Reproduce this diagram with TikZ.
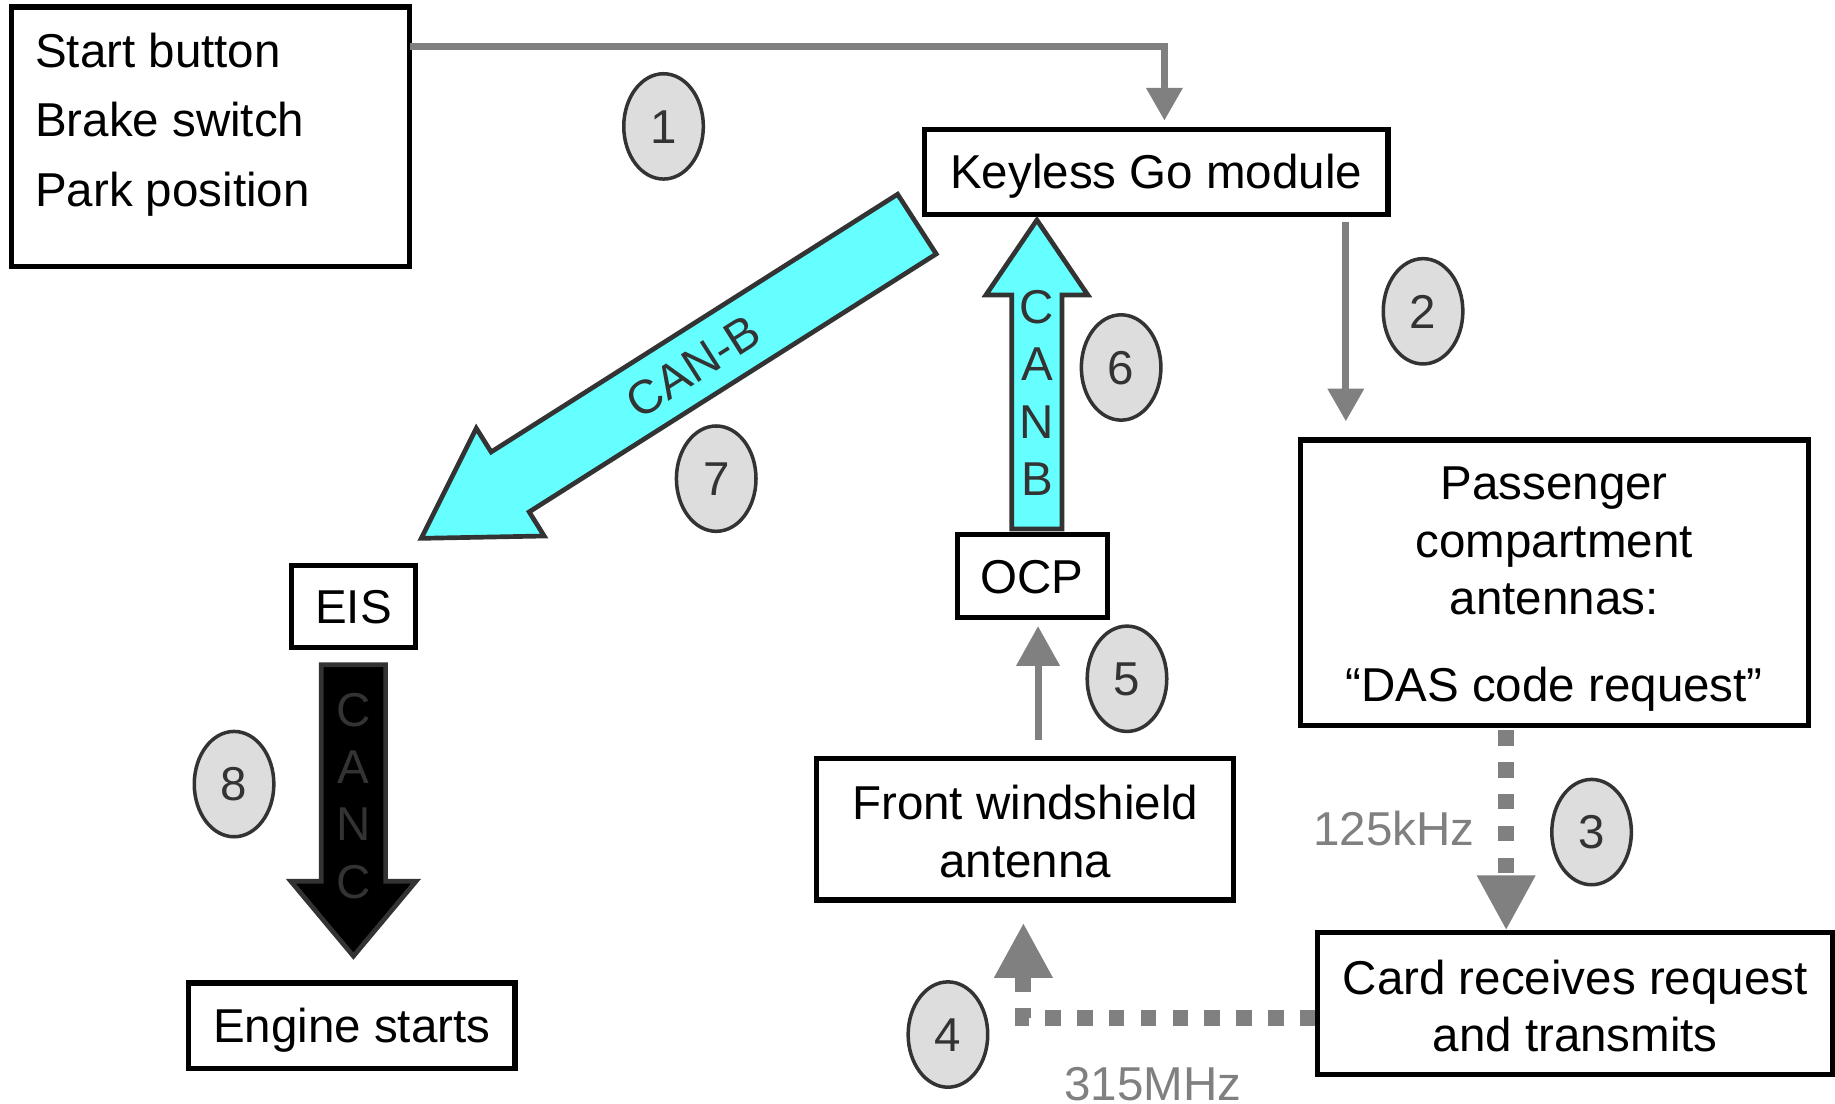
\documentclass[tikz,border=0pt]{standalone}
\usepackage{fontspec}
\setmainfont{Liberation Sans}
\usetikzlibrary{arrows.meta,shapes.geometric}
\definecolor{garr}{HTML}{808080}
\definecolor{dk}{HTML}{333333}
\definecolor{cfill}{HTML}{66FFFF}
\definecolor{cirf}{HTML}{DDDDDD}
\begin{document}
\begin{tikzpicture}[x=0.5pt,y=-0.5pt,
 every node/.style={font=\fontsize{20.3}{24}\selectfont, inner sep=0pt, outer sep=0pt},
 box/.style={draw=black, line width=2.2pt, text height=15.2pt, text depth=0.8pt},
 txt/.style={anchor=base},
 num/.style={ellipse, draw=dk, fill=cirf, line width=1.5pt, minimum width=34pt, minimum height=45pt, text=dk, text height=15.2pt, text depth=0.8pt},
 garrow/.style={draw=garr, line width=3pt, -{Triangle[width=15pt,length=14pt]}},
 dotarrow/.style={draw=garr, line width=6.8pt, dash pattern=on 6.6pt off 7pt, -{Triangle[width=23.5pt,length=23.5pt]}},
 blockarr/.style={draw=dk, line width=2pt},
 lett/.style={text=dk, text height=15.2pt, text depth=0.8pt}
]
\useasboundingbox (0,0) rectangle (1568,942.6);
% boxes
\node[box, minimum width=170pt, minimum height=111pt] (box1) at (180,117) {};
\node[txt, anchor=base west] (t1a) at (30,57.5) {Start button};
\node[txt, anchor=base west] (t1b) at (30,116.5) {Brake switch};
\node[txt, anchor=base west] (t1c) at (30,176.5) {Park position};
\node[box, minimum width=198pt, minimum height=36pt] (kgm) at (988,147) {Keyless Go module};
\node[box, minimum width=217pt, minimum height=122pt] (pca) at (1328,498) {};
\node[txt] (tpa) at (1328,426.5) {Passenger};
\node[txt] (tpb) at (1328,476.5) {compartment};
\node[txt] (tpc) at (1328,525.5) {antennas:};
\node[txt] (tpd) at (1328,599.5) {“DAS code request”};
\node[box, minimum width=220pt, minimum height=60.5pt] (card) at (1346,857.5) {};
\node[txt] (tca) at (1346,849.5) {Card receives request};
\node[txt] (tcb) at (1346,898.5) {and transmits};
\node[box, minimum width=178pt, minimum height=60.5pt] (fwa) at (876,708.5) {};
\node[txt] (tfa) at (876,700.5) {Front windshield};
\node[txt] (tfb) at (876,749.5) {antenna};
\node[box, minimum width=64pt, minimum height=35.5pt] (ocp) at (882,492.5) {OCP};
\node[box, minimum width=53pt, minimum height=35pt] (eis) at (302,518) {EIS};
\node[box, minimum width=139.5pt, minimum height=36.5pt] (eng) at (300.5,876.5) {Engine starts};
% helper coordinates
\coordinate (r1) at (995,40);
\coordinate (r2) at (1150,0);
\coordinate (r3) at (1287,0);
\coordinate (r4) at (874.5,870);
\coordinate (r5) at (887,0);
% gray arrows
\draw[garrow, shorten >=4pt] (box1.east |- r1) -| (kgm.north -| r1);
\draw[garrow, shorten <=3.5pt, shorten >=8pt] (kgm.south -| r2) -- (pca.north -| r2);
\draw[dotarrow, shorten <=2pt, shorten >=1pt] (pca.south -| r3) -- (card.north -| r3);
\draw[dotarrow, shorten <=1pt, shorten >=9.75pt] (card.west |- r4) -| (fwa.south -| r4);
\draw[garrow, -{Triangle[width=18pt,length=17pt]}, shorten <=8pt, shorten >=3.5pt] (fwa.north -| r5) -- (ocp.south -| r5);
% labels
\node[txt, anchor=base east, text=garr] (l125) at (1260,722.5) {125kHz};
\node[txt, text=garr] (l315) at (985,940.5) {315MHz};
% big CAN-B arrow
\draw[blockarr, fill=cfill] (767,166) -- (419.7,386.2) -- (407,366) -- (360,460) -- (465,458) -- (452.2,437.4) -- (800,217) -- cycle;
\node[lett, rotate=32.4] (canb7) at (592,313) {CAN-B};
% CAN B up arrow
\draw[blockarr, fill=cfill] (864.5,452) -- (907.5,452) -- (907.5,252) -- (929.5,252) -- (886,188) -- (842.5,252) -- (864.5,252) -- cycle;
\node[lett] (c6a) at (886,262) {C};
\node[lett] (c6b) at (886,311) {A};
\node[lett] (c6c) at (886,360) {N};
\node[lett] (c6d) at (886,409) {B};
% CAN C down arrow
\draw[blockarr, fill=black] (274.5,568) -- (329.5,568) -- (329.5,753) -- (355.5,753) -- (302,817) -- (248.5,753) -- (274.5,753) -- cycle;
\node[lett] (c8a) at (302,606) {C};
\node[lett] (c8b) at (302,655) {A};
\node[lett] (c8c) at (302,704) {N};
\node[lett] (c8d) at (302,753) {C};
% numbered circles
\node[num] (n1) at (567,108) {1};
\node[num] (n2) at (1216,266) {2};
\node[num] (n3) at (1360,711) {3};
\node[num] (n4) at (810,884) {4};
\node[num] (n5) at (963,580) {5};
\node[num] (n6) at (958,314) {6};
\node[num] (n7) at (612,409) {7};
\node[num] (n8) at (200,670) {8};
\end{tikzpicture}
\end{document}
